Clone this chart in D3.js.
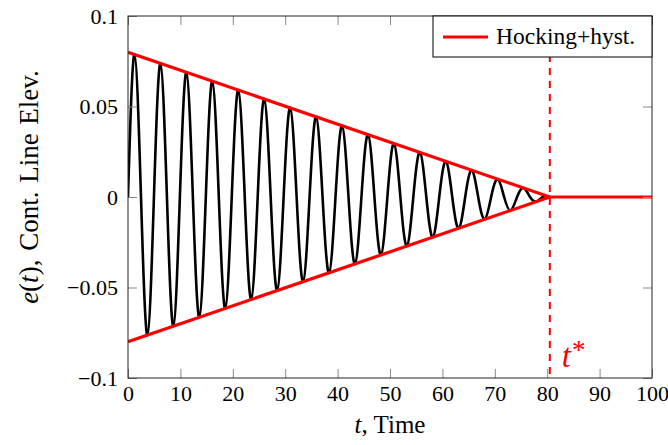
<!DOCTYPE html>
<html>
<head>
<meta charset="utf-8">
<script src="https://cdn.jsdelivr.net/npm/d3@7"></script>
<style>
  body { margin: 0; background: #fff; }
  svg text { font-family: "Liberation Serif", "DejaVu Serif", serif; fill: #000; }
</style>
</head>
<body>
<script>
// oscillation: peaks, troughs and zero crossings
const peakT = [1.24, 6.19, 11.14, 16.09, 21.04, 25.99, 30.94, 35.89, 40.84, 45.79, 50.74, 55.69, 60.64, 65.59, 70.54, 75.49, 80.44];
const peakE = [0.0788, 0.0738, 0.0689, 0.0640, 0.0591, 0.0542, 0.0493, 0.0443, 0.0394, 0.0345, 0.0296, 0.0247, 0.0197, 0.0148, 0.0099, 0.0050, 0.0];
const troughT = [3.71, 8.66, 13.61, 18.56, 23.51, 28.46, 33.41, 38.36, 43.31, 48.26, 53.21, 58.16, 63.11, 68.06, 73.01, 77.96];
const troughE = [-0.0763, -0.0714, -0.0665, -0.0616, -0.0566, -0.0517, -0.0468, -0.0419, -0.0370, -0.0320, -0.0271, -0.0222, -0.0173, -0.0124, -0.0074, -0.0025];
const zeroT = [0, 2.48, 4.95, 7.43, 9.90, 12.38, 14.85, 17.33, 19.80, 22.28, 24.75, 27.23, 29.70, 32.18, 34.65, 37.13, 39.60,
               42.08, 44.55, 47.03, 49.50, 51.98, 54.45, 56.93, 59.40, 61.88, 64.35, 66.83, 69.30, 71.78, 74.25, 76.73, 79.20];

// Hocking+hyst. envelope and the rest state after t*
const tStar = 80.5;
const envT = [0, tStar];
const envUpper = [0.08, 0];
const envLower = [-0.08, 0];
const restT = [tStar, 100];
const restE = [0, 0];

const xTicks = [0, 10, 20, 30, 40, 50, 60, 70, 80, 90, 100];
const yTicks = [-0.1, -0.05, 0, 0.05, 0.1];
const yTickLabels = ["\u22120.1", "\u22120.05", "0", "0.05", "0.1"];

const serif = '"Liberation Serif", "DejaVu Serif", serif';
const width = 668, height = 445;
const margin = { top: 16, right: 16, bottom: 67, left: 128 };

const svg = d3.select("body").append("svg")
    .attr("width", width)
    .attr("height", height);

const x = d3.scaleLinear().domain([0, 100]).range([margin.left, width - margin.right]);
const y = d3.scaleLinear().domain([-0.1, 0.1]).range([height - margin.bottom, margin.top]);

svg.append("clipPath").attr("id", "clip")
  .append("rect")
    .attr("x", x(0)).attr("y", y(0.1))
    .attr("width", x(100) - x(0)).attr("height", y(-0.1) - y(0.1));

const plot = svg.append("g").attr("clip-path", "url(#clip)");

// merge all oscillation points in time order
const osc = [];
peakT.forEach((t, i) => osc.push([t, peakE[i]]));
troughT.forEach((t, i) => osc.push([t, troughE[i]]));
zeroT.forEach(t => osc.push([t, 0]));
osc.sort((a, b) => a[0] - b[0]);

const smooth = d3.line().x(d => x(d[0])).y(d => y(d[1])).curve(d3.curveNatural);
const straight = d3.line().x(d => x(d[0])).y(d => y(d[1]));

plot.append("path")
    .datum(osc)
    .attr("fill", "none")
    .attr("stroke", "#000")
    .attr("stroke-width", 2.6)
    .attr("d", smooth);

[envUpper, envLower].forEach(env => {
  plot.append("path")
      .datum(envT.map((t, i) => [t, env[i]]))
      .attr("fill", "none")
      .attr("stroke", "#ff0000")
      .attr("stroke-width", 3.2)
      .attr("d", straight);
});
plot.append("path")
    .datum(restT.map((t, i) => [t, restE[i]]))
    .attr("fill", "none")
    .attr("stroke", "#ff0000")
    .attr("stroke-width", 3.2)
    .attr("d", straight);

// t* marker
plot.append("line")
    .attr("x1", x(tStar)).attr("x2", x(tStar))
    .attr("y1", y(0.1)).attr("y2", y(-0.1))
    .attr("stroke", "#ff0000")
    .attr("stroke-width", 2)
    .attr("stroke-dasharray", "7,6");

const tl = svg.append("text")
    .attr("x", x(tStar) + 12)
    .attr("y", 367)
    .style("font-size", "33px")
    .style("fill", "#ff0000");
tl.append("tspan").style("font-style", "italic").style("fill", "#ff0000").text("t");
tl.append("tspan").attr("dx", 1).attr("dy", -8).style("font-size", "27px").style("fill", "#ff0000").text("*");

// axes, ticks pointing inward
function styleAxis(g) {
  g.attr("font-family", serif).attr("font-size", 22);
  g.select(".domain").remove();
  g.selectAll(".tick line").attr("stroke", "#888").attr("stroke-width", 1);
  g.selectAll(".tick text").style("font-size", "22px").style("font-family", serif);
}

svg.append("g")
    .attr("transform", `translate(0,${y(-0.1)})`)
    .call(d3.axisBottom(x).tickValues(xTicks).tickSizeInner(-9).tickSizeOuter(0).tickPadding(7))
    .call(styleAxis);

svg.append("g")
    .attr("transform", `translate(${x(0)},0)`)
    .call(d3.axisLeft(y).tickValues(yTicks).tickFormat((d, i) => yTickLabels[i])
        .tickSizeInner(-9).tickSizeOuter(0).tickPadding(10))
    .call(styleAxis);

svg.append("g")
    .attr("transform", `translate(0,${y(0.1)})`)
    .call(d3.axisTop(x).tickValues(xTicks).tickFormat("").tickSizeInner(-9).tickSizeOuter(0))
    .call(styleAxis);

svg.append("g")
    .attr("transform", `translate(${x(100)},0)`)
    .call(d3.axisRight(y).tickValues(yTicks).tickFormat("").tickSizeInner(-9).tickSizeOuter(0))
    .call(styleAxis);

svg.append("rect")
    .attr("x", x(0)).attr("y", y(0.1))
    .attr("width", x(100) - x(0)).attr("height", y(-0.1) - y(0.1))
    .attr("fill", "none")
    .attr("stroke", "#222")
    .attr("stroke-width", 1);

// axis labels
const xl = svg.append("text")
    .attr("x", (x(0) + x(100)) / 2)
    .attr("y", 433)
    .attr("text-anchor", "middle")
    .style("font-size", "25px");
xl.append("tspan").style("font-style", "italic").text("t");
xl.append("tspan").text(", Time");

const yl = svg.append("text")
    .attr("transform", `translate(38,${(y(0.1) + y(-0.1)) / 2 - 10}) rotate(-90)`)
    .attr("text-anchor", "middle")
    .style("font-size", "27px")
    .style("word-spacing", "2px");
yl.append("tspan").style("font-style", "italic").text("e");
yl.append("tspan").text("(");
yl.append("tspan").style("font-style", "italic").text("t");
yl.append("tspan").text("), Cont. Line Elev.");

// legend
const lg = svg.append("g");
lg.append("rect")
    .attr("x", 433).attr("y", y(0.1))
    .attr("width", x(100) - 433).attr("height", 41)
    .attr("fill", "#fff")
    .attr("stroke", "#000")
    .attr("stroke-width", 1);
lg.append("line")
    .attr("x1", 443).attr("x2", 488)
    .attr("y1", 37).attr("y2", 37)
    .attr("stroke", "#ff0000")
    .attr("stroke-width", 3.2);
lg.append("text")
    .attr("x", 496).attr("y", 44)
    .style("font-size", "23.5px")
    .text("Hocking+hyst.");
</script>
</body>
</html>
